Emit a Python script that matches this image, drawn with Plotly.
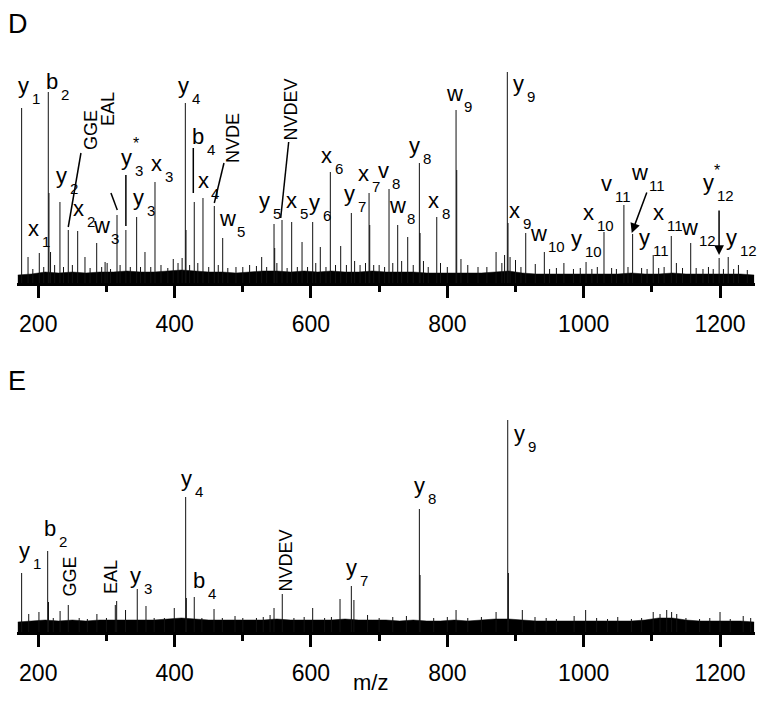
import plotly.graph_objects as go

# the page body keeps its default 8px margin, so the figure is 16px smaller
# than the window and every reference pixel is shifted by OFF
OFF = 8
W, H = 770 - 2 * OFF, 704 - 2 * OFF
FONT = "Liberation Sans, Arial, Helvetica, sans-serif"

# ---------------- data: panel D (m/z, relative intensity) ----------------
d_mz = [175.6, 185, 192, 201.5, 208, 214.7, 215.7, 218, 224, 231.8, 237, 244, 250, 257.8,
        268.5, 276, 285.7, 293, 298, 301, 306, 315.5, 320, 328.5, 335, 344.3, 350, 356.5,
        365, 371.2, 380, 390, 398, 405, 411, 415.7, 416.7, 422, 428.8, 434, 441.6, 450,
        458.2, 464, 470.5, 478, 490, 500, 510, 520, 527.7, 535, 545.8, 546.8, 550, 557.5,
        565, 571.7, 580, 586.9, 595, 602.5, 607, 613.7, 622, 628.4, 636, 643.6, 652, 659.2,
        664, 672, 680, 685.2, 686.2, 692, 700, 708, 714.5, 720, 727.2, 733, 741.9, 750, 759,
        760, 765, 772, 784.5, 790, 800, 812.8, 813.8, 820, 830, 845, 858, 871.5, 880, 884,
        888, 889, 892, 900, 908, 915, 929, 942.3, 950, 960, 971, 985, 995, 1003.5, 1012,
        1020, 1029.8, 1041, 1048, 1059, 1065, 1071.8, 1085, 1093, 1102, 1110, 1118, 1128.5,
        1136, 1145, 1157, 1165, 1175, 1183, 1190, 1198.7, 1205, 1212, 1220, 1227, 1240]
d_int = [175, 26, 14, 30, 16, 191, 90, 31, 18, 81, 16, 53, 18, 52,
         26, 15, 40, 16, 21, 20, 14, 68, 18, 53, 16, 66, 16, 31,
         16, 101, 18, 15, 24, 20, 25, 180, 53, 18, 81, 20, 85, 16,
         77, 18, 45, 15, 16, 16, 18, 17, 26, 16, 59, 35, 20, 63,
         15, 61, 16, 41, 16, 61, 20, 36, 16, 111, 18, 37, 18, 70,
         22, 18, 20, 90, 58, 18, 18, 16, 94, 20, 58, 22, 46, 18, 120,
         50, 22, 16, 66, 20, 16, 173, 113, 24, 18, 16, 16, 31, 20, 28,
         211, 60, 26, 23, 16, 50, 19, 31, 14, 15, 20, 14, 15, 21, 14,
         16, 51, 15, 14, 78, 16, 49, 15, 14, 28, 15, 16, 47,
         20, 15, 40, 15, 14, 16, 14, 25, 14, 26, 14, 18, 13]

noise_mz = [170, 190, 210, 230, 250, 270, 290, 310, 330, 350, 370, 390, 410, 430, 450,
            470, 490, 510, 530, 550, 570, 590, 610, 630, 650, 670, 690, 710, 730, 750,
            770, 790, 810, 830, 850, 870, 890, 910, 930, 950, 970, 990, 1010, 1030, 1050,
            1070, 1090, 1110, 1130, 1150, 1170, 1190, 1210, 1230, 1250]
d_noise = [8, 9, 11, 10, 11, 10, 11, 11, 12, 11, 11, 12, 13, 12, 11,
           11, 10, 11, 12, 12, 11, 12, 11, 12, 11, 11, 12, 11, 11, 11,
           10, 10, 10, 10, 10, 11, 12, 10, 9, 9, 9, 9, 9, 9, 9,
           10, 9, 9, 10, 9, 9, 9, 9, 9, 8]

# ---------------- data: panel E ----------------
e_mz = [175.6, 186, 201, 213.8, 215, 222, 232, 244, 260, 272, 286, 300, 313, 315, 328,
        345.2, 358, 370, 385, 399.5, 416.2, 417.2, 428.8, 440, 457.8, 470, 488.6, 500, 520,
        530, 540, 545.8, 557.9, 575, 590, 602.5, 620, 630, 642.6, 659.2, 663, 683, 700,
        720, 740, 759, 760, 780, 800, 812.8, 830, 850, 871.5, 888.6, 889.6, 910, 928.6,
        945, 960, 986, 1002.9, 1019, 1035, 1050, 1070, 1085, 1102, 1112, 1121.8, 1129,
        1136.5, 1150, 1170, 1185, 1200, 1215, 1234, 1245]
e_int = [59, 18, 20, 81, 30, 14, 21, 27, 14, 13, 18, 14, 27, 31, 22,
         43, 26, 14, 14, 24, 135, 34, 35, 14, 23, 14, 16, 14, 14,
         15, 17, 24, 38, 14, 15, 24, 14, 15, 33, 46, 32, 17, 14,
         15, 16, 123, 57, 14, 15, 22, 14, 15, 20, 212, 59, 22, 15,
         14, 13, 16, 22, 14, 13, 15, 13, 14, 20, 18, 22, 20,
         18, 14, 13, 14, 20, 13, 16, 14]
e_noise = [10, 11, 12, 11, 12, 11, 12, 12, 12, 12, 12, 13, 14, 13, 12,
           12, 12, 12, 12, 13, 12, 12, 12, 12, 13, 12, 12, 12, 11, 12,
           11, 11, 12, 11, 12, 13, 13, 12, 11, 11, 11, 11, 11, 11, 11,
           11, 12, 14, 14, 12, 11, 11, 11, 11, 10]

# ---------------- labels (layout, glyph positions in window pixels) ----------------
# (ion letter, subscript, glyph left px, glyph top px)
d_labels = [("y", "1", 17, 80), ("b", "2", 45, 73), ("x", "1", 27, 223), ("y", "2", 55, 170),
            ("x", "2", 72, 203), ("w", "3", 92, 220), ("y", "3", 120, 152), ("y", "3", 132, 192),
            ("x", "3", 150, 158), ("y", "4", 177, 80), ("b", "4", 191, 128), ("x", "4", 197, 175),
            ("w", "5", 218, 213), ("y", "5", 258, 195), ("x", "5", 285, 195), ("y", "6", 308, 197),
            ("x", "6", 320, 150), ("y", "7", 343, 188), ("x", "7", 357, 168), ("v", "8", 377, 165),
            ("w", "8", 388, 200), ("y", "8", 408, 140), ("x", "8", 427, 195), ("w", "9", 445, 88),
            ("y", "9", 512, 78), ("x", "9", 508, 205), ("w", "10", 529, 228), ("y", "10", 570, 233),
            ("x", "10", 582, 207), ("v", "11", 600, 178), ("w", "11", 630, 167), ("y", "11", 638, 232),
            ("x", "11", 652, 207), ("w", "12", 680, 222), ("y", "12", 702, 177), ("y", "12", 725, 232)]
e_labels = [("y", "1", 18, 545), ("b", "2", 43, 520), ("y", "3", 129, 570), ("y", "4", 180, 473),
            ("b", "4", 192, 572), ("y", "7", 345, 562), ("y", "8", 413, 480), ("y", "9", 513, 428)]
stars = [(135.7, 140), (717, 167.5)]
# rotated sequence labels: (text, glyph centre px x, y)
d_seq = [("GGE", 91, 130), ("EAL", 108.5, 109.5), ("NVDE", 232.5, 137.5), ("NVDEV", 290.5, 110)]
e_seq = [("GGE", 69.5, 577), ("EAL", 110.5, 576.5), ("NVDEV", 285.5, 561)]

# leader lines (m/z, intensity): x0, y0, x1, y1
d_leaders = [(244.0, 56, 262.6, 130), (315.9, 73, 306.6, 90), (328.5, 57, 328.5, 108),
             (427.4, 90, 427.4, 135), (458.2, 80, 472.4, 120), (555.6, 65, 567.3, 141)]
# arrows: tail x, tail y, head x, head y
d_arrows = [(1093.4, 92, 1070.5, 50), (1198.6, 74, 1198.6, 28)]

ADV = {"x": 11.0, "y": 11.0, "w": 15.9, "v": 11.0, "b": 12.2}


def sticks(mz, inten):
    xs, ys = [], []
    for m, i in zip(mz, inten):
        xs += [m, m, None]
        ys += [0, i, None]
    return xs, ys


def paper(x, y):
    return (x - OFF) / W, 1 - (y - OFF) / H


def ydomain(axis_px, top_px):
    return [1 - (axis_px - OFF) / H, 1 - (top_px - OFF) / H]


fig = go.Figure()
for mz, inten, noise, xa, ya in [(d_mz, d_int, d_noise, "x", "y"), (e_mz, e_int, e_noise, "x2", "y2")]:
    fig.add_trace(go.Scatter(x=noise_mz, y=noise, mode="lines", fill="tozeroy",
                             fillcolor="black", line=dict(color="black", width=0.5),
                             xaxis=xa, yaxis=ya, hoverinfo="skip"))
    sx, sy = sticks(mz, inten)
    fig.add_trace(go.Scatter(x=sx, y=sy, mode="lines", line=dict(color="#111111", width=1),
                             xaxis=xa, yaxis=ya, hoverinfo="skip"))

ann = []
for letter, sub, lx, ty in d_labels + e_labels:
    base = ty + (15 if letter == "b" else 11.5)
    px, py = paper(lx - 1, base - 20.9)
    ann.append(dict(text=letter, x=px, y=py, xanchor="left", yanchor="top",
                    font=dict(size=22)))
    px, py = paper(lx + ADV[letter] + 1.5, base - 3.8)
    ann.append(dict(text=sub, x=px, y=py, xanchor="left", yanchor="top",
                    font=dict(size=15)))
for sx_, sy_ in stars:
    px, py = paper(sx_, sy_ + 3.5)
    ann.append(dict(text="*", x=px, y=py, xanchor="center", yanchor="middle", font=dict(size=16)))
for txt, cx, cy in d_seq + e_seq:
    px, py = paper(cx, cy)
    ann.append(dict(text=txt, x=px, y=py, xanchor="center", yanchor="middle",
                    textangle=-90, font=dict(size=18)))
for tx, ty, hx, hy in d_arrows:
    ann.append(dict(text="", x=hx, y=hy, ax=tx, ay=ty, xref="x", yref="y", axref="x", ayref="y",
                    showarrow=True, arrowhead=2, arrowsize=1.3, arrowwidth=1.5, arrowcolor="black"))
for txt, lx, ty in [("D", 6, 7), ("E", 6, 364)]:
    px, py = paper(lx, ty)
    ann.append(dict(text=txt, x=px, y=py, xanchor="left", yanchor="top", font=dict(size=27)))
# axis title sits right at the bottom edge, so anchor it by its box bottom
px, py = paper(370, 695.5)
ann.append(dict(text="m/z", x=px, y=py, xanchor="center", yanchor="bottom",
                borderpad=0, font=dict(size=22)))

for a in ann:
    a.setdefault("xref", "paper")
    a.setdefault("yref", "paper")
    a.setdefault("showarrow", False)
    a["font"] = dict(family=FONT, color="black", **a.get("font", {}))
    a.setdefault("borderpad", 1)

shapes = [dict(type="line", xref="x", yref="y", x0=x0, y0=y0, x1=x1, y1=y1,
               line=dict(color="black", width=1.5)) for x0, y0, x1, y1 in d_leaders]

xaxis = dict(domain=[(17 - OFF) / W, (755 - OFF) / W], range=[168.8, 1251.3], showline=True,
             linewidth=3, linecolor="black", ticks="outside", ticklen=12, tickwidth=3,
             tickcolor="black", tickmode="linear", tick0=200, dtick=200, ticklabelstandoff=6,
             minor=dict(ticks="outside", ticklen=6, tickwidth=3, tickcolor="black", dtick=100),
             showgrid=False, zeroline=False,
             tickfont=dict(family=FONT, size=23, color="black"))

fig.update_layout(
    width=W, height=H, margin=dict(l=0, r=0, t=0, b=0),
    paper_bgcolor="white", plot_bgcolor="white", showlegend=False,
    xaxis=dict(**xaxis, anchor="y"),
    yaxis=dict(domain=ydomain(283, 61), range=[0, 222], visible=False),
    xaxis2=dict(**xaxis, anchor="y2"),
    yaxis2=dict(domain=ydomain(632, 410), range=[0, 222], visible=False),
    annotations=ann, shapes=shapes,
)

fig.write_html("out.html")
